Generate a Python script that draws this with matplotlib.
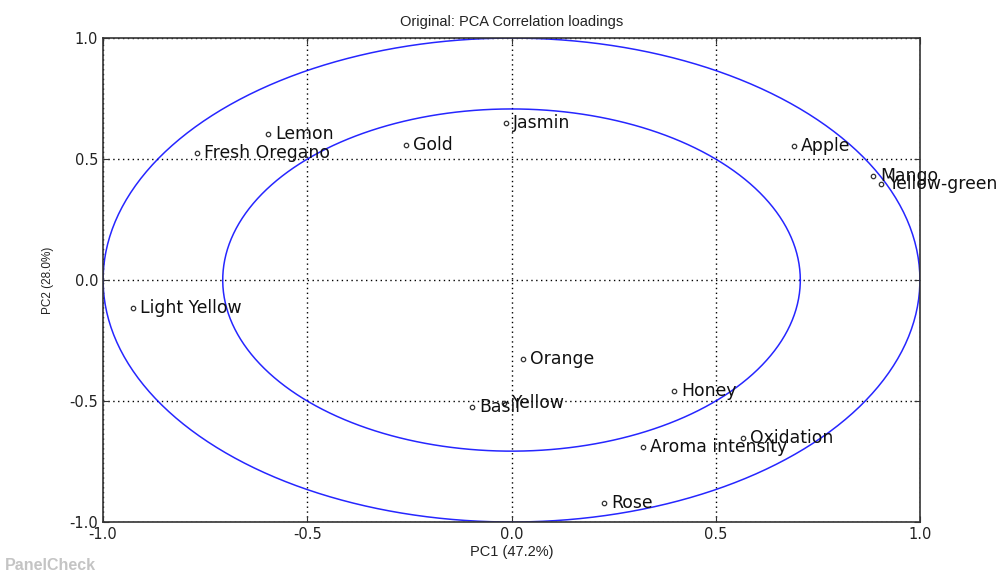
import numpy as np
import matplotlib
matplotlib.use("Agg")
import matplotlib.pyplot as plt

# Correlation loadings of each attribute on PC1 / PC2
attributes = ["Lemon", "Fresh Oregano", "Gold", "Jasmin", "Apple", "Mango",
              "Yellow-green", "Light Yellow", "Orange", "Honey", "Basil",
              "Yellow", "Aroma intensity", "Oxidation", "Rose"]
pc1 = [-0.596, -0.770, -0.258, -0.013, 0.692, 0.885,
       0.904, -0.927, 0.028, 0.398, -0.097,
       -0.018, 0.322, 0.567, 0.226]
pc2 = [0.603, 0.525, 0.558, 0.649, 0.554, 0.430,
       0.397, -0.116, -0.326, -0.459, -0.525,
       -0.510, -0.690, -0.653, -0.921]

explained = [47.2, 28.0]
ticks = [-1.0, -0.5, 0.0, 0.5, 1.0]

fig = plt.figure(figsize=(10.01, 5.77), dpi=100)
ax = fig.add_axes([0.103, 0.0953, 0.816, 0.8387])

# correlation circles: 100% and 50% explained variance
theta = np.linspace(0, 2 * np.pi, 400)
for r in (1.0, np.sqrt(0.5)):
    ax.plot(r * np.cos(theta), r * np.sin(theta), color="#0000ff", lw=1.1, alpha=0.85)

ax.plot(pc1, pc2, "o", ms=3.2, mfc="white", mec="#333333", mew=0.9, ls="none")
for name, x, y in zip(attributes, pc1, pc2):
    ax.annotate(name, (x, y), xytext=(5, 0), textcoords="offset points",
                va="center", ha="left", fontsize=12.4, color="#111111",
                family="DejaVu Sans")

ax.set_xlim(-1, 1)
ax.set_ylim(-1, 1)
ax.set_xticks(ticks)
ax.set_yticks(ticks)
ax.set_xticklabels([f"{t:.1f}" for t in ticks])
ax.set_yticklabels([f"{t:.1f}" for t in ticks])
ax.tick_params(direction="in", top=True, right=True, labelsize=10.5, length=4,
               color="#333333", labelcolor="#222222")
ax.grid(True, color="black", ls=(0, (1, 2.5)), lw=1.0)
for s in ax.spines.values():
    s.set_color("#333333")
    s.set_linewidth(1.2)

ax.set_title("Original: PCA Correlation loadings", fontsize=10.5,
             family="Liberation Sans", pad=9, color="#222222")
ax.set_xlabel(f"PC1 ({explained[0]}%)", fontsize=10.5, family="Liberation Sans",
              labelpad=2, color="#222222")
ax.set_ylabel(f"PC2 ({explained[1]}%)", fontsize=8.5, family="Liberation Sans",
              labelpad=11, color="#222222")

fig.text(0.005, 0.007, "PanelCheck", fontsize=11.5, fontweight="bold",
         color="#c4c4c4", family="Liberation Sans", ha="left", va="bottom")

fig.savefig("out.png", dpi=100, facecolor="white")
